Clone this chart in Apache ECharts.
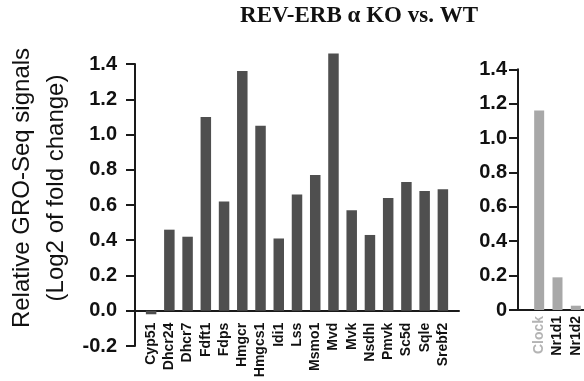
<!DOCTYPE html>
<html><head><meta charset="utf-8">
<script src="https://cdn.jsdelivr.net/npm/echarts@6/dist/echarts.min.js"></script>
<style>html,body{margin:0;padding:0;background:#fff}#c{width:584px;height:381px}</style>
</head><body><div id="c"></div>
<script>
const titleText = 'REV-ERB \u03b1 KO vs. WT';
const yTitle = 'Relative GRO-Seq signals\n(Log2 of fold change)';
const geneCats = ['Cyp51','Dhcr24','Dhcr7','Fdft1','Fdps','Hmgcr','Hmgcs1','Idi1','Lss','Msmo1','Mvd','Mvk','Nsdhl','Pmvk','Sc5d','Sqle','Srebf2'];
const geneVals = [-0.02,0.46,0.42,1.10,0.62,1.36,1.05,0.41,0.66,0.77,1.46,0.57,0.43,0.64,0.73,0.68,0.69];
const clockCats = ['Clock','Nr1d1','Nr1d2'];
const clockVals = [1.16,0.19,0.025];
const leftTicks = {min:-0.2, max:1.4, interval:0.2};
const rightTicks = {min:0, max:1.4, interval:0.2};

const FONT = 'Liberation Sans, Arial, sans-serif';
const chart = echarts.init(document.getElementById('c'), null, {renderer:'canvas'});
const axisCol = '#1a1a1a';
const frameX = {show:true, axisLine:{show:true,onZero:true,lineStyle:{color:axisCol,width:2}}, axisTick:{show:false}, axisLabel:{show:false}, splitLine:{show:false}};
const ghostY = {show:false, splitLine:{show:false}};
const g = (o)=>Object.assign({outerBoundsMode:'none', containLabel:false}, o);

chart.setOption({
  animation:false,
  backgroundColor:'#fff',
  title:{text:titleText, left:354, top:0, textAlign:'center',
    textStyle:{fontFamily:'Liberation Serif, Times New Roman, serif', fontWeight:'bold', fontSize:23, color:'#111'}},
  graphic:[{type:'text', x:39, y:188, rotation:Math.PI/2,
    style:{text:yTitle, align:'center', verticalAlign:'middle', font:'24px Liberation Sans, Arial, sans-serif', lineHeight:34, fill:'#111'}}],
  grid:[
    g({left:135, width:324, top:64, height:282}),
    g({left:142, width:310, top:28.75, height:282}),
    g({left:518, width:66, top:69.3, height:240.7}),
    g({left:530, width:55, top:69.3, height:240.7})
  ],
  xAxis:[
    Object.assign({type:'value', gridIndex:0, min:0, max:1}, frameX),
    {type:'category', gridIndex:1, data:geneCats, axisLine:{show:false}, axisTick:{show:false},
      axisLabel:{rotate:90, interval:0, margin:12, fontFamily:FONT, fontWeight:'bold', fontSize:14, color:'#111'}},
    Object.assign({type:'value', gridIndex:2, min:0, max:1}, frameX),
    {type:'category', gridIndex:3, data:clockCats.map((c,i)=>({value:c, textStyle:{color: i===0 ? '#b4b4b4' : '#111'}})),
      axisLine:{show:false}, axisTick:{show:false},
      axisLabel:{rotate:90, interval:0, margin:6, fontFamily:FONT, fontWeight:'bold', fontSize:14}}
  ],
  yAxis:[
    {type:'value', gridIndex:0, min:leftTicks.min, max:leftTicks.max, interval:leftTicks.interval,
      axisLine:{show:true,onZero:false,lineStyle:{color:axisCol,width:2}},
      axisTick:{show:true,length:9,lineStyle:{color:axisCol,width:2}},
      axisLabel:{margin:18, fontFamily:FONT, fontWeight:'bold', fontSize:20, color:'#111', formatter:v=>v.toFixed(1)},
      splitLine:{show:false}},
    Object.assign({type:'value', gridIndex:1, min:0, max:1.6, interval:leftTicks.interval}, ghostY),
    {type:'value', gridIndex:2, min:rightTicks.min, max:rightTicks.max, interval:rightTicks.interval,
      axisLine:{show:true,onZero:false,lineStyle:{color:axisCol,width:2}},
      axisTick:{show:true,length:9,lineStyle:{color:axisCol,width:2}},
      axisLabel:{margin:11, fontFamily:FONT, fontWeight:'bold', fontSize:20, color:'#111', formatter:v=>v===0?'0':v.toFixed(1)},
      splitLine:{show:false}},
    Object.assign({type:'value', gridIndex:3, min:rightTicks.min, max:rightTicks.max, interval:rightTicks.interval}, ghostY)
  ],
  series:[
    {type:'bar', xAxisIndex:1, yAxisIndex:1, data:geneVals, barWidth:10.5, clip:false, itemStyle:{color:'#4f4f4f'}},
    {type:'bar', xAxisIndex:3, yAxisIndex:3, data:clockVals, barWidth:10, clip:false, itemStyle:{color:'#a8a8a8'}}
  ]
});
</script></body></html>
